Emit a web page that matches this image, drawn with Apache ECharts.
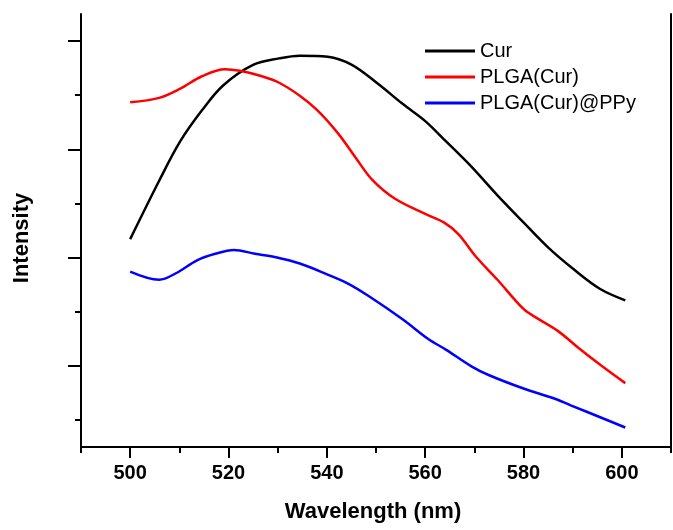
<!DOCTYPE html>
<html>
<head>
<meta charset="utf-8">
<script src="https://cdn.jsdelivr.net/npm/echarts@6/dist/echarts.min.js"></script>
<style>html,body{margin:0;padding:0;background:#fff}#c{width:673px;height:530px}</style>
</head>
<body>
<div id="c"></div>
<script>
// Wavelength (nm) and intensity (a.u.) readings
var curX = [500, 505.9, 510.2, 514.6, 518.9, 525, 530.3, 534.5, 540.2, 545.1, 550.4, 555.4, 559.9, 564.2, 569.4, 574.7, 580, 585.1, 590.4, 595.6, 600.7];
var curY = [384, 492, 565, 622, 668, 706, 718, 723, 721, 706, 671, 634, 603, 565, 518, 465, 415, 368, 327, 292, 271];

var plgaX = [500, 505.9, 510.2, 514.6, 519.3, 522.3, 526.8, 530.3, 534.5, 538.2, 542.4, 545.9, 549.3, 553.8, 559.9, 563.8, 566.8, 570.3, 574.7, 580, 582.4, 586.9, 591.2, 595.6, 600.7];
var plgaY = [637, 645, 662, 685, 698, 695, 685, 673, 649, 621, 578, 534, 493, 459, 431, 415, 393, 352, 309, 255, 240, 215, 183, 152, 118];

var ppyX = [500, 505.9, 509.3, 513.6, 517.3, 521.1, 525.4, 529.4, 534.5, 539.8, 544.3, 548.5, 555.4, 560.7, 564.2, 569.4, 572.9, 580, 586.1, 589.6, 595.6, 600.7];
var ppyY = [324, 309, 321, 345, 357, 364, 357, 351, 339, 320, 302, 279, 236, 199, 180, 149, 133, 108, 90, 77, 55, 36];

var xMajorTicks = [500, 520, 540, 560, 580, 600];
var xMinorTicks = [490, 510, 530, 550, 570, 590, 610];
var yMajorTicks = [150, 350, 550, 750];
var yMinorTicks = [50, 250, 450, 650];

function zip(xs, ys) { return xs.map(function (x, i) { return [x, ys[i]]; }); }

var chart = echarts.init(document.getElementById('c'), null, {renderer: 'canvas'});
var axisLine = {show: true, lineStyle: {color: '#000', width: 2}};
var font = 'Liberation Sans, Arial, sans-serif';
var gridRect = {left: 81, right: 2, top: 14, bottom: 83, containLabel: false};

chart.setOption({
  animation: false,
  backgroundColor: '#fff',
  grid: [Object.assign({}, gridRect), Object.assign({}, gridRect)],
  legend: {
    orient: 'vertical', left: 420, top: 35, itemWidth: 50, itemHeight: 3, itemGap: 4,
    icon: 'rect',
    textStyle: {fontFamily: font, fontSize: 20, color: '#000', lineHeight: 22},
    data: ['Cur', 'PLGA(Cur)', 'PLGA(Cur)@PPy']
  },
  graphic: [{
    type: 'text', x: 22, y: 238, rotation: Math.PI / 2,
    style: {text: 'Intensity', align: 'center', verticalAlign: 'middle',
            font: 'bold 22px "Liberation Sans", Arial, sans-serif', fill: '#000'}
  }],
  xAxis: [
    {
      gridIndex: 0, type: 'value', min: 490, max: 610, interval: 10, position: 'bottom',
      axisLine: axisLine, splitLine: {show: false},
      axisTick: {show: true, length: 6, inside: false, customValues: xMinorTicks, lineStyle: {color: '#000', width: 2}},
      axisLabel: {show: true, customValues: xMajorTicks, margin: 16, fontFamily: font, fontSize: 20, fontWeight: 'bold', color: '#000'},
      name: 'Wavelength (nm)', nameLocation: 'middle', nameGap: 54,
      nameTextStyle: {fontFamily: font, fontSize: 22, fontWeight: 'bold', color: '#000', padding: [0, 6, 0, 0]}
    },
    {
      gridIndex: 0, type: 'value', min: 490, max: 610, interval: 10, position: 'top',
      axisLine: axisLine, splitLine: {show: false},
      axisTick: {show: true, inside: true, length: 2, lineStyle: {color: '#000', width: 1.5}},
      axisLabel: {show: false}
    },
    {
      gridIndex: 1, type: 'value', min: 490, max: 610, interval: 10, position: 'bottom',
      axisLine: {show: false}, splitLine: {show: false},
      axisTick: {show: true, length: 11, customValues: xMajorTicks, lineStyle: {color: '#000', width: 2}},
      axisLabel: {show: false}
    }
  ],
  yAxis: [
    {
      gridIndex: 0, type: 'value', min: 0, max: 800, position: 'left',
      axisLine: axisLine, splitLine: {show: false},
      axisTick: {show: true, length: 13, customValues: yMajorTicks, lineStyle: {color: '#000', width: 2}},
      axisLabel: {show: false}
    },
    {
      gridIndex: 0, type: 'value', min: 0, max: 800, position: 'right',
      axisLine: axisLine, splitLine: {show: false},
      axisTick: {show: false}, axisLabel: {show: false}
    },
    {
      gridIndex: 1, type: 'value', min: 0, max: 800, position: 'left',
      axisLine: {show: false}, splitLine: {show: false},
      axisTick: {show: true, length: 6, customValues: yMinorTicks, lineStyle: {color: '#000', width: 2}},
      axisLabel: {show: false}
    }
  ],
  series: [
    {name: 'Cur', type: 'line', smooth: 0.35, showSymbol: false, data: zip(curX, curY),
     lineStyle: {color: '#000', width: 2.5}, itemStyle: {color: '#000'}},
    {name: 'PLGA(Cur)', type: 'line', smooth: 0.35, showSymbol: false, data: zip(plgaX, plgaY),
     lineStyle: {color: '#ff0000', width: 2.5}, itemStyle: {color: '#ff0000'}},
    {name: 'PLGA(Cur)@PPy', type: 'line', smooth: 0.35, showSymbol: false, data: zip(ppyX, ppyY),
     lineStyle: {color: '#0000ff', width: 2.5}, itemStyle: {color: '#0000ff'}}
  ]
});
</script>
</body>
</html>
